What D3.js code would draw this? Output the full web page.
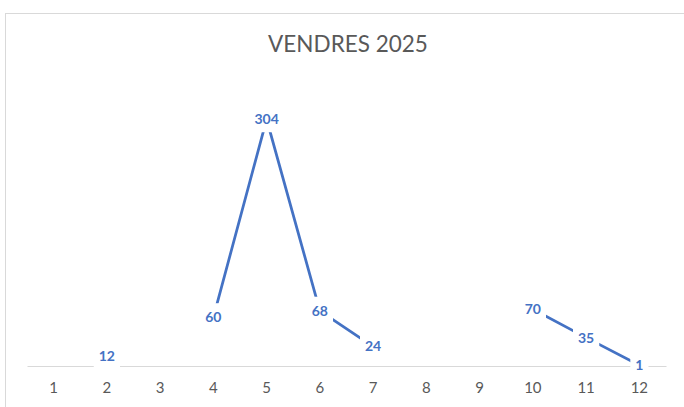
<!DOCTYPE html>
<html>
<head>
<meta charset="utf-8">
<script src="https://cdn.jsdelivr.net/npm/d3@7"></script>
<style>
  html, body { margin: 0; padding: 0; background: #fff; }
  svg { display: block; }
</style>
</head>
<body>
<script>
// chart data
const title = "VENDRES 2025";
const months = ["1", "2", "3", "4", "5", "6", "7", "8", "9", "10", "11", "12"];
const sales = [null, 12, null, 60, 304, 68, 24, null, null, 70, 35, 1];
const yMax = 350;

const width = 684, height = 407;
const margin = { top: 82, right: 18, bottom: 41, left: 27 };

const svg = d3.select("body").append("svg")
  .attr("width", width)
  .attr("height", height)
  .style("font-family", "Lato, 'Open Sans', sans-serif");

// chart area border
svg.append("rect")
  .attr("x", 5.5).attr("y", 13.5)
  .attr("width", width + 10).attr("height", height + 10)
  .attr("fill", "#fff")
  .attr("stroke", "#d9d9d9");

const x = d3.scaleBand()
  .domain(months)
  .range([margin.left, width - margin.right]);

const y = d3.scaleLinear()
  .domain([0, yMax])
  .range([height - margin.bottom, margin.top]);

svg.append("text")
  .attr("x", 348).attr("y", 52)
  .attr("text-anchor", "middle")
  .attr("fill", "#595959")
  .style("font-size", "22.5px")
  .text(title);

// category axis
const xAxis = svg.append("g")
  .attr("transform", `translate(0,${y(0)})`)
  .call(d3.axisBottom(x).tickSize(0).tickPadding(16));
xAxis.select(".domain").attr("stroke", "#d9d9d9").attr("stroke-width", 1);
xAxis.selectAll("text")
  .attr("fill", "#595959")
  .style("font-size", "15px")
  .style("font-family", "Lato, 'Open Sans', sans-serif");

const pts = months.map((m, i) => ({ m, v: sales[i] }));
const cx = d => x(d.m) + x.bandwidth() / 2;

const line = d3.line()
  .defined(d => d.v != null)
  .x(cx)
  .y(d => y(d.v));

svg.append("path")
  .datum(pts)
  .attr("fill", "none")
  .attr("stroke", "#4472c4")
  .attr("stroke-width", 2.75)
  .attr("d", line);

// data labels, centred on the points with a white box
const lab = svg.append("g")
  .selectAll("g")
  .data(pts.filter(d => d.v != null))
  .join("g")
  .attr("transform", d => `translate(${cx(d)},${y(d.v)})`);

lab.append("text")
  .attr("text-anchor", "middle")
  .attr("dy", "0.35em")
  .attr("fill", "#4472c4")
  .style("font-size", "14px")
  .style("font-weight", "bold")
  .text(d => d.v);

lab.each(function () {
  const b = d3.select(this).select("text").node().getBBox();
  d3.select(this).insert("rect", "text")
    .attr("x", b.x - 5).attr("y", b.y - 5)
    .attr("width", b.width + 10).attr("height", b.height + 10)
    .attr("fill", "#fff");
});
</script>
</body>
</html>
